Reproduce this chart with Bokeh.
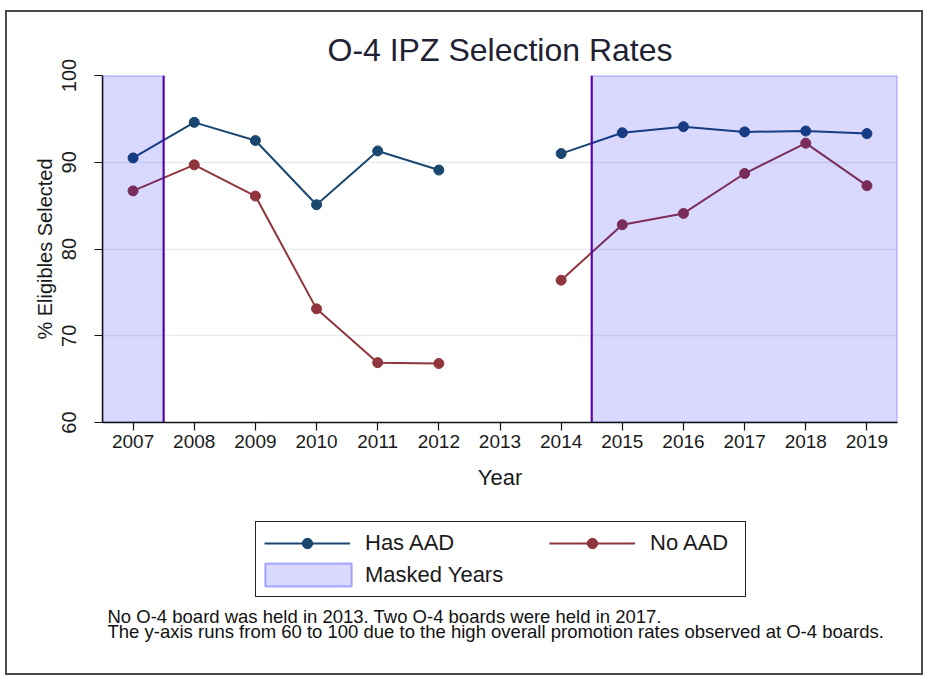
from bokeh.plotting import figure
from bokeh.layouts import column
from bokeh.models import Range1d, FixedTicker, Label, Legend, LegendItem
from bokeh.embed import file_html
from bokeh.resources import INLINE

nan = float("nan")

# ---- data ----
years = [2007, 2008, 2009, 2010, 2011, 2012, 2013, 2014, 2015, 2016, 2017, 2018, 2019]
has_aad = [90.5, 94.6, 92.5, 85.1, 91.3, 89.1, nan, 91.0, 93.4, 94.1, 93.5, 93.6, 93.3]
no_aad = [86.7, 89.7, 86.1, 73.1, 66.9, 66.8, nan, 76.4, 82.8, 84.1, 88.7, 92.2, 87.3]
mask_start = [2006.5, 2014.5]
mask_end = [2007.5, 2019.5]
boundary_lines = [2007.5, 2014.5]
y_ticks = [60, 70, 80, 90, 100]
y_min, y_max = 60, 100
x_min, x_max = 2006.5, 2019.5

title_text = "O-4 IPZ Selection Rates"
note_lines = [
    "No O-4 board was held in 2013. Two O-4 boards were held in 2017.",
    "The y-axis runs from 60 to 100 due to the high overall promotion rates observed at O-4 boards.",
]

FONT = "Liberation Sans"
NAVY = "#1a476f"
MAROON = "#90353b"
MASK_STYLE = dict(fill_color="blue", fill_alpha=0.15, line_color="blue",
                  line_alpha=0.3, line_width=2)

# ---- main chart ----
p = figure(width=914, height=488, output_backend="svg", toolbar_location=None,
           x_range=Range1d(x_min, x_max), y_range=Range1d(y_min, y_max),
           min_border_left=95, min_border_right=24, min_border_top=63,
           min_border_bottom=78)
p.outline_line_color = None
p.background_fill_color = "white"
p.border_fill_color = "white"

p.title.text = title_text
p.title.align = "center"
p.title.text_font = FONT
p.title.text_font_size = "32px"
p.title.text_font_style = "normal"
p.title.text_color = "#1f2233"
p.title.standoff = 16

l1 = p.line(years, has_aad, line_color=NAVY, line_width=2)
s1 = p.scatter(years, has_aad, size=10, fill_color=NAVY, line_color=NAVY)
l2 = p.line(years, no_aad, line_color=MAROON, line_width=2)
s2 = p.scatter(years, no_aad, size=10, fill_color=MAROON, line_color=MAROON)

p.segment(x0=boundary_lines, x1=boundary_lines, y0=y_min, y1=y_max,
          line_color="purple", line_width=2)
p.quad(left=mask_start, right=mask_end, bottom=y_min, top=y_max, **MASK_STYLE)

for ax in (p.xaxis, p.yaxis):
    ax.axis_line_color = "#111111"
    ax.axis_line_width = 1.5
    ax.major_tick_line_color = "#111111"
    ax.major_tick_line_width = 1.2
    ax.major_tick_out = 8
    ax.major_tick_in = 0
    ax.minor_tick_line_color = None
    ax.major_label_text_font = FONT
    ax.major_label_text_color = "#1a1a1a"
    ax.axis_label_text_font = FONT
    ax.axis_label_text_font_style = "normal"
    ax.axis_label_text_color = "#1a1a1a"

p.xaxis.ticker = FixedTicker(ticks=years)
p.xaxis.axis_label = "Year"
p.xaxis.major_label_text_font_size = "19px"
p.xaxis.major_label_standoff = 4
p.xaxis.axis_label_text_font_size = "22px"
p.xaxis.axis_label_standoff = 14

p.yaxis.ticker = FixedTicker(ticks=y_ticks)
p.yaxis.axis_label = "% Eligibles Selected"
p.yaxis.major_label_orientation = "vertical"
p.yaxis.major_label_text_font_size = "20px"
p.yaxis.major_label_standoff = 19
p.yaxis.axis_label_text_font_size = "20px"
p.yaxis.axis_label_standoff = 3

p.xgrid.visible = False
p.ygrid.ticker = FixedTicker(ticks=y_ticks)
p.ygrid.grid_line_color = "#e4ecef"
p.ygrid.grid_line_width = 1.5

# ---- legend + notes panel ----
q = figure(width=914, height=173, output_backend="svg", toolbar_location=None,
           x_range=Range1d(0, 1), y_range=Range1d(0, 1),
           x_axis_type=None, y_axis_type=None,
           min_border_left=0, min_border_right=0, min_border_top=0,
           min_border_bottom=0)
q.outline_line_color = None
q.grid.visible = False
q.background_fill_color = "white"
q.border_fill_color = "white"

# legend keys: the same series drawn in this panel, outside its visible range
k1 = q.line(years, has_aad, line_color=NAVY, line_width=2)
k1s = q.scatter(years, has_aad, size=9, fill_color=NAVY, line_color=NAVY)
k2 = q.line(years, no_aad, line_color=MAROON, line_width=2)
k2s = q.scatter(years, no_aad, size=9, fill_color=MAROON, line_color=MAROON)
kq = q.quad(left=mask_start, right=mask_end, bottom=y_min, top=y_max, **MASK_STYLE)
kq_blank = q.quad(left=mask_start, right=mask_end, bottom=y_min, top=y_max,
                  fill_alpha=0, line_alpha=0)


def style_legend(lg):
    lg.label_text_font = FONT
    lg.label_text_font_size = "22px"
    lg.label_text_color = "#1a1a1a"
    lg.glyph_width = 86
    lg.glyph_height = 26
    lg.label_standoff = 15
    lg.padding = 8
    lg.spacing = 6
    lg.margin = 0


leg_a = Legend(items=[LegendItem(label="Has AAD", renderers=[k1, k1s]),
                      LegendItem(label="Masked Years", renderers=[kq_blank])],
               location=(153, 76))
style_legend(leg_a)
leg_a.label_width = 372
leg_a.border_line_color = "#222222"
leg_a.border_line_width = 1.5
leg_a.border_line_alpha = 1.0
leg_a.background_fill_color = "white"
leg_a.background_fill_alpha = 1.0
q.add_layout(leg_a)

leg_b = Legend(items=[LegendItem(label="No AAD", renderers=[k2, k2s])],
               location=(439, 109))
style_legend(leg_b)
leg_b.border_line_alpha = 0
leg_b.background_fill_alpha = 0
q.add_layout(leg_b)

# full-size swatch for the masked-years key (legend insets area keys by 10%)
leg_c = Legend(items=[LegendItem(label=" ", renderers=[kq])],
               location=(152, 84))
leg_c.glyph_width = 108
leg_c.glyph_height = 29
leg_c.padding = 0
leg_c.margin = 0
leg_c.label_standoff = 0
leg_c.label_width = 0
leg_c.label_text_font_size = "1px"
leg_c.border_line_alpha = 0
leg_c.background_fill_alpha = 0
q.add_layout(leg_c)

for i, txt in enumerate(note_lines):
    q.add_layout(Label(x=5, y=57 - 15 * i, x_units="screen", y_units="screen",
                       text=txt, text_font=FONT, text_font_size="18.5px",
                       text_color="#111111", text_baseline="alphabetic"))

layout = column(p, q, spacing=0)
layout.margin = (12, 0, 0, 7)
layout.styles = {"outline": "2px solid #4a4a4a"}

open("out.html", "w").write(file_html(layout, INLINE))
